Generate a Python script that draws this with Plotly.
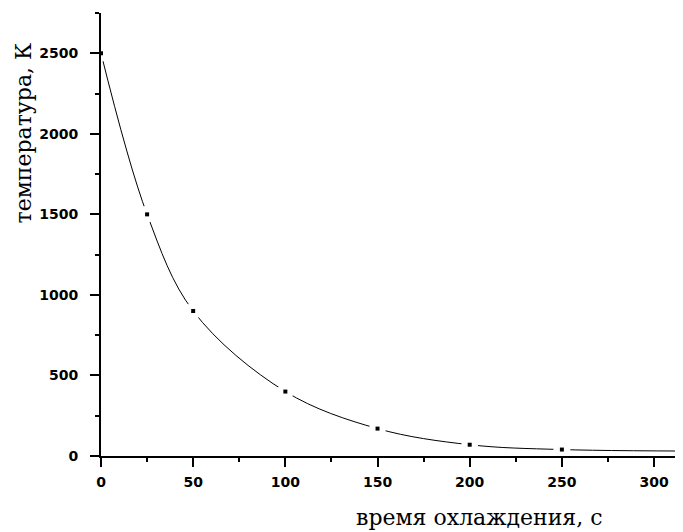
import plotly.graph_objects as go

# data (time s, temperature K)
time_s = [0, 25, 50, 100, 150, 200, 250, 350]
temp_k = [2500, 1500, 900, 400, 170, 70, 40, 30]
marker_time = [0, 25, 50, 100, 150, 200, 250]
marker_temp = [2500, 1500, 900, 400, 170, 70, 40]
x_ticks = [0, 50, 100, 150, 200, 250, 300]
y_ticks = [0, 500, 1000, 1500, 2000, 2500]
x_title = "время охлаждения, с"
y_title = "температура, К"

# page body has an 8px margin; figure is sized to fit the window exactly
W, H = 675, 524
L, T, B = 93, 5, 76
PW, PH = W - L, H - T - B

fig = go.Figure()
fig.add_trace(go.Scatter(x=time_s, y=temp_k, mode="lines",
                         line=dict(color="black", width=1, shape="spline"),
                         showlegend=False, hoverinfo="skip"))
fig.add_trace(go.Scatter(x=marker_time, y=marker_temp, mode="markers",
                         marker=dict(color="white", size=17, symbol="circle",
                                     line=dict(width=0)),
                         showlegend=False, hoverinfo="skip"))
fig.add_trace(go.Scatter(x=marker_time, y=marker_temp, mode="markers",
                         marker=dict(color="black", size=4, symbol="square"),
                         cliponaxis=False, showlegend=False))

axis_common = dict(showgrid=False, zeroline=False, showline=True,
                   linecolor="black", linewidth=2, ticks="outside",
                   ticklen=9, tickwidth=2, tickcolor="black",
                   tickfont=dict(family="DejaVu Sans", size=14, color="black",
                                 weight="bold"),
                   minor=dict(ticks="outside", ticklen=4, tickwidth=2,
                              tickcolor="black"))

fig.update_xaxes(range=[0, 315.7], tickvals=x_ticks, **axis_common)
fig.update_xaxes(minor_dtick=25, ticklabelstandoff=3)
fig.update_yaxes(range=[0, 2750], tickvals=y_ticks, **axis_common)
fig.update_yaxes(minor_dtick=250, ticklabelstandoff=9)

# annotation centres, in page pixels of the reference
xt_cx, xt_cy = 479, 517
yt_cx, yt_cy = 23, 133.5

fig.add_annotation(text=x_title, xref="paper", yref="paper",
                   x=(xt_cx - 8 - L) / PW, y=(T + PH - (xt_cy - 8)) / PH,
                   xanchor="center", yanchor="middle", showarrow=False,
                   font=dict(family="DejaVu Serif", size=22, color="black"))
fig.add_annotation(text=y_title, xref="paper", yref="paper",
                   x=(yt_cx - 8 - L) / PW, y=(T + PH - (yt_cy - 8)) / PH,
                   xanchor="center", yanchor="middle", showarrow=False,
                   textangle=-90,
                   font=dict(family="DejaVu Serif", size=22, color="black"))

fig.update_layout(width=W, height=H, plot_bgcolor="white",
                  paper_bgcolor="white",
                  margin=dict(l=L, r=0, t=T, b=B))
fig.write_html("out.html")
